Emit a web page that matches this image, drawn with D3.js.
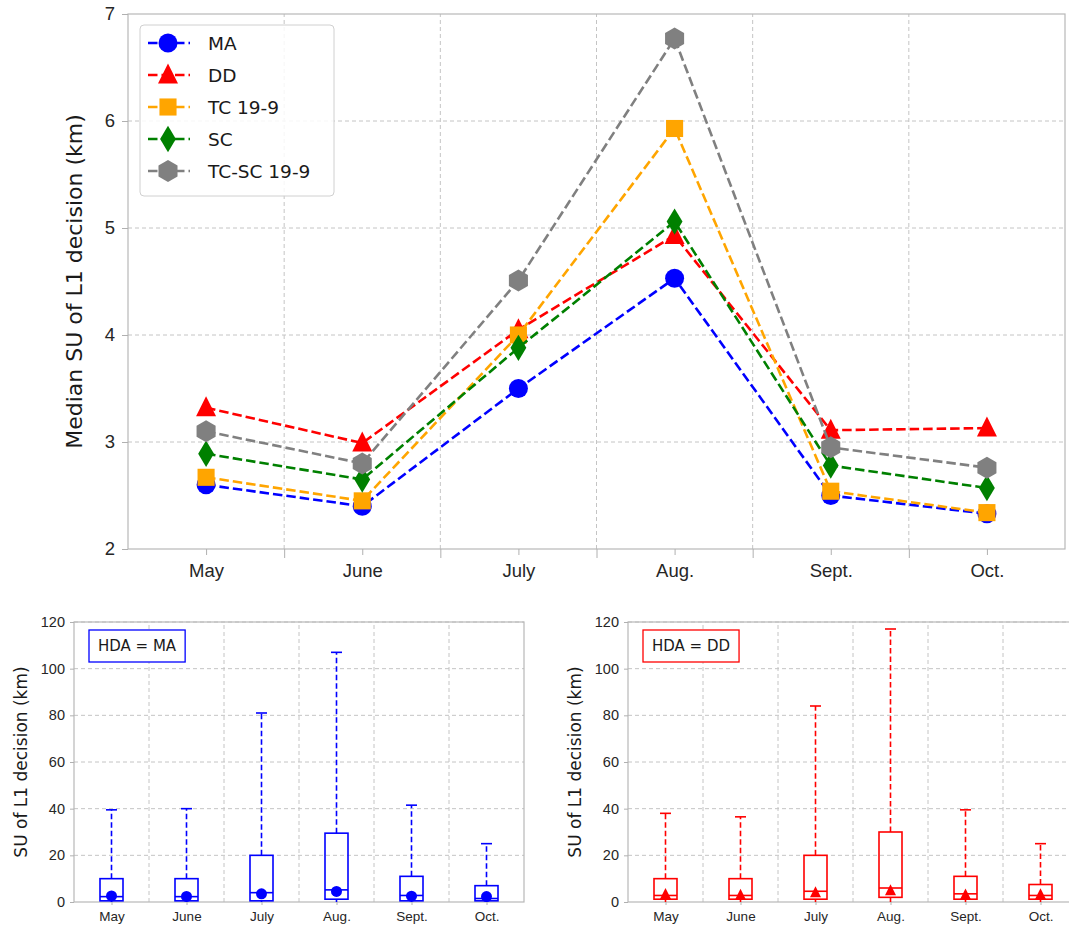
<!DOCTYPE html>
<html>
<head>
<meta charset="utf-8">
<script src="https://cdn.jsdelivr.net/npm/d3@7"></script>
<style>
  body { margin: 0; background: #fff; }
  svg { font-family: "DejaVu Sans", sans-serif; }
  .grid line { stroke: #c4c4c4; stroke-dasharray: 4,3; stroke-width: 1; }
  .axis path, .axis line { stroke: #b0b0b0; }
  .axis text { fill: #262626; }
</style>
</head>
<body>
<div id="chart"></div>
<script>

// top chart: median values per month
var months = ["May", "June", "July", "Aug.", "Sept.", "Oct."];
var seriesNames = ["MA", "DD", "TC 19-9", "SC", "TC-SC 19-9"];
var medMA   = [2.60, 2.40, 3.50, 4.53, 2.50, 2.33];
var medDD   = [3.32, 2.99, 4.05, 4.93, 3.11, 3.13];
var medTC   = [2.67, 2.45, 4.00, 5.93, 2.54, 2.34];
var medSC   = [2.89, 2.65, 3.88, 5.06, 2.78, 2.57];
var medTCSC = [3.10, 2.80, 4.51, 6.77, 2.95, 2.76];
var topTicks = [2, 3, 4, 5, 6, 7];

// bottom boxplots
var maWhiskLo = [0, 0, 0, 0, 0, 0];
var maQ1      = [0.5, 0.5, 0.5, 1.2, 0.5, 0.5];
var maMedLine = [2.3, 2.3, 4.0, 5.2, 2.8, 1.5];
var maQ3      = [10, 10, 20, 29.5, 11, 7];
var maWhiskHi = [39.5, 40, 81, 107, 41.5, 25];

var ddWhiskLo = [0, 0, 0, 0, 0, 0];
var ddQ1      = [1.2, 1.2, 1.2, 2.0, 1.2, 1.2];
var ddMedLine = [2.8, 2.8, 4.6, 6.0, 3.5, 2.8];
var ddQ3      = [10, 10, 20, 30, 11, 7.5];
var ddWhiskHi = [38, 36.5, 84, 117, 39.5, 25];
var boxTicks = [0, 20, 40, 60, 80, 100, 120];

var W = 1069, H = 929;
var svg = d3.select("#chart").append("svg")
    .attr("width", W).attr("height", H);

// marker shapes
function markerPath(type, s) {
    if (type == "circle") return d3.symbol().type(d3.symbolCircle).size(Math.PI * s * s / 4)();
    if (type == "triangle") {
        var h = s * 0.5;
        return "M0," + (-h * 1.15) + "L" + h + "," + (h * 0.85) + "L" + (-h) + "," + (h * 0.85) + "Z";
    }
    if (type == "square") { var a = s * 0.45; return "M" + -a + "," + -a + "H" + a + "V" + a + "H" + -a + "Z"; }
    if (type == "diamond") { var dx = s * 0.36, dy = s * 0.6; return "M0," + -dy + "L" + dx + ",0L0," + dy + "L" + -dx + ",0Z"; }
    if (type == "hexagon") {
        var r = s * 0.55, p = [];
        for (var i = 0; i < 6; i++) {
            var ang = Math.PI / 2 + i * Math.PI / 3;
            p.push([r * Math.cos(ang), -r * Math.sin(ang)]);
        }
        return "M" + p.join("L") + "Z";
    }
}

// ---------------- top chart ----------------
var xt = d3.scaleLinear().domain([-0.5, 5.5]).range([128, 1065]);
var yt = d3.scaleLinear().domain([2, 7]).range([549, 14]);
var halfs = [0.5, 1.5, 2.5, 3.5, 4.5];

var topG = svg.append("g");
topG.append("g").attr("class", "grid")
    .selectAll("line.h").data(topTicks.slice(1, -1)).enter().append("line")
    .attr("x1", xt(-0.5)).attr("x2", xt(5.5))
    .attr("y1", function(d) { return yt(d); }).attr("y2", function(d) { return yt(d); });
topG.append("g").attr("class", "grid")
    .selectAll("line.v").data(halfs).enter().append("line")
    .attr("y1", yt(2)).attr("y2", yt(7))
    .attr("x1", function(d) { return xt(d); }).attr("x2", function(d) { return xt(d); });

topG.append("rect")
    .attr("x", xt(-0.5)).attr("y", yt(7))
    .attr("width", xt(5.5) - xt(-0.5)).attr("height", yt(2) - yt(7))
    .attr("fill", "none").attr("stroke", "#b8b8b8").attr("stroke-width", 1.2);

var gx = topG.append("g").attr("class", "axis")
    .attr("transform", "translate(0," + yt(2) + ")")
    .call(d3.axisBottom(xt).tickValues([0, 1, 2, 3, 4, 5])
        .tickFormat(function(d) { return months[d]; }).tickSize(6).tickPadding(9));
gx.selectAll("text").attr("font-size", 18.5);
gx.select(".domain").remove();
topG.append("g").attr("class", "axis")
    .attr("transform", "translate(0," + yt(2) + ")")
    .call(d3.axisBottom(xt).tickValues(halfs).tickFormat("").tickSize(9))
    .select(".domain").remove();

var gy = topG.append("g").attr("class", "axis")
    .attr("transform", "translate(" + xt(-0.5) + ",0)")
    .call(d3.axisLeft(yt).tickValues(topTicks).tickFormat(d3.format("d")).tickSize(6).tickPadding(7));
gy.selectAll("text").attr("font-size", 18.5);
gy.select(".domain").remove();

topG.append("text")
    .attr("transform", "translate(82," + (yt(4.5)) + ") rotate(-90)")
    .attr("text-anchor", "middle").attr("font-size", 22).attr("fill", "#1a1a1a")
    .text("Median SU of L1 decision (km)");

var series = [
    {name: seriesNames[0], vals: medMA,   color: "#0000ff", marker: "circle",   size: 19},
    {name: seriesNames[1], vals: medDD,   color: "#ff0000", marker: "triangle", size: 20},
    {name: seriesNames[2], vals: medTC,   color: "#ffa500", marker: "square",   size: 19},
    {name: seriesNames[3], vals: medSC,   color: "#008000", marker: "diamond",  size: 22},
    {name: seriesNames[4], vals: medTCSC, color: "#808080", marker: "hexagon",  size: 20}
];

var line = d3.line()
    .x(function(d, i) { return xt(i); })
    .y(function(d) { return yt(d); });

series.forEach(function(s) {
    var g = topG.append("g");
    g.append("path").datum(s.vals)
        .attr("d", line).attr("fill", "none")
        .attr("stroke", s.color).attr("stroke-width", 2.6)
        .attr("stroke-dasharray", "9.5,4");
    g.selectAll("path.m").data(s.vals).enter().append("path")
        .attr("class", "m")
        .attr("transform", function(d, i) { return "translate(" + xt(i) + "," + yt(d) + ")"; })
        .attr("d", markerPath(s.marker, s.size))
        .attr("fill", s.color);
});

// legend
var leg = topG.append("g").attr("transform", "translate(140,25)");
leg.append("rect").attr("width", 194).attr("height", 171).attr("rx", 4)
    .attr("fill", "#fff").attr("fill-opacity", 0.85)
    .attr("stroke", "#d0d0d0").attr("stroke-width", 1);
series.forEach(function(s, i) {
    var yy = 18 + i * 32;
    leg.append("line").attr("x1", 8).attr("x2", 50).attr("y1", yy).attr("y2", yy)
        .attr("stroke", s.color).attr("stroke-width", 2.6).attr("stroke-dasharray", "9.5,4");
    leg.append("path").attr("transform", "translate(28," + yy + ")")
        .attr("d", markerPath(s.marker, s.size)).attr("fill", s.color);
    leg.append("text").attr("x", 68).attr("y", yy + 6.5)
        .attr("font-size", 18.5).attr("fill", "#1a1a1a").text(s.name);
});

// ---------------- bottom boxplots ----------------
function boxPanel(x0, color, lab, lo, q1, med, q3, hi, dots, marker) {
    var xb = d3.scaleLinear().domain([-0.5, 5.5]).range([x0, x0 + 450]);
    var yb = d3.scaleLinear().domain([0, 120]).range([902, 622]);
    var g = svg.append("g");

    g.append("g").attr("class", "grid")
        .selectAll("line").data(boxTicks.slice(1)).enter().append("line")
        .attr("x1", xb(-0.5)).attr("x2", xb(5.5))
        .attr("y1", function(d) { return yb(d); }).attr("y2", function(d) { return yb(d); });
    g.append("g").attr("class", "grid")
        .selectAll("line").data(halfs).enter().append("line")
        .attr("y1", yb(0)).attr("y2", yb(120))
        .attr("x1", function(d) { return xb(d); }).attr("x2", function(d) { return xb(d); });
    g.append("rect")
        .attr("x", xb(-0.5)).attr("y", yb(120))
        .attr("width", 450).attr("height", yb(0) - yb(120))
        .attr("fill", "none").attr("stroke", "#b8b8b8").attr("stroke-width", 1.2);

    var ax = g.append("g").attr("class", "axis")
        .attr("transform", "translate(0," + yb(0) + ")")
        .call(d3.axisBottom(xb).tickValues([0, 1, 2, 3, 4, 5])
            .tickFormat(function(d) { return months[d]; }).tickSize(3).tickPadding(6));
    ax.selectAll("text").attr("font-size", 13.5);
    ax.select(".domain").remove();
    var ay = g.append("g").attr("class", "axis")
        .attr("transform", "translate(" + xb(-0.5) + ",0)")
        .call(d3.axisLeft(yb).tickValues(boxTicks).tickSize(4).tickPadding(5));
    ay.selectAll("text").attr("font-size", 14.5);
    ay.select(".domain").remove();

    g.append("text")
        .attr("transform", "translate(" + (x0 - 47) + "," + yb(60) + ") rotate(-90)")
        .attr("text-anchor", "middle").attr("font-size", 17).attr("fill", "#1a1a1a")
        .text("SU of L1 decision (km)");

    var bw = 23, cw = 11;
    months.forEach(function(m, i) {
        var cx = xb(i);
        g.append("line").attr("x1", cx).attr("x2", cx).attr("y1", yb(q3[i])).attr("y2", yb(hi[i]))
            .attr("stroke", color).attr("stroke-width", 1.6).attr("stroke-dasharray", "5.5,3");
        g.append("line").attr("x1", cx).attr("x2", cx).attr("y1", yb(lo[i])).attr("y2", yb(q1[i]))
            .attr("stroke", color).attr("stroke-width", 1.6).attr("stroke-dasharray", "5.5,3");
        g.append("line").attr("x1", cx - cw / 2).attr("x2", cx + cw / 2).attr("y1", yb(hi[i])).attr("y2", yb(hi[i]))
            .attr("stroke", color).attr("stroke-width", 1.6);
        g.append("rect").attr("x", cx - bw / 2).attr("width", bw)
            .attr("y", yb(q3[i])).attr("height", yb(q1[i]) - yb(q3[i]))
            .attr("fill", "none").attr("stroke", color).attr("stroke-width", 1.6);
        g.append("line").attr("x1", cx - bw / 2).attr("x2", cx + bw / 2).attr("y1", yb(med[i])).attr("y2", yb(med[i]))
            .attr("stroke", color).attr("stroke-width", 1.6);
        g.append("path").attr("transform", "translate(" + cx + "," + yb(dots[i]) + ")")
            .attr("d", markerPath(marker, 11)).attr("fill", color);
    });

    var lb = g.append("g").attr("transform", "translate(" + (x0 + 15) + ",630)");
    var t = lb.append("text").attr("x", 9).attr("y", 21).attr("font-size", 15)
        .attr("fill", "#1a1a1a").text(lab);
    var tw = t.node().getComputedTextLength();
    lb.insert("rect", "text").attr("width", tw + 18).attr("height", 32)
        .attr("fill", "#fff").attr("stroke", color).attr("stroke-width", 1.3);
}

boxPanel(74, "#0000ff", "HDA = MA", maWhiskLo, maQ1, maMedLine, maQ3, maWhiskHi, medMA, "circle");
boxPanel(628, "#ff0000", "HDA = DD", ddWhiskLo, ddQ1, ddMedLine, ddQ3, ddWhiskHi, medDD, "triangle");

</script>
</body>
</html>
